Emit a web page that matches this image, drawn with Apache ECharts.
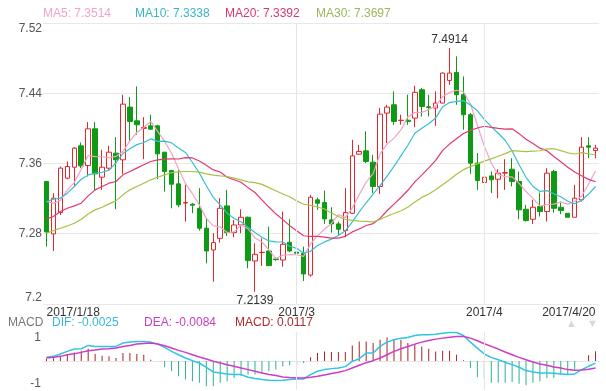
<!DOCTYPE html>
<html><head><meta charset="utf-8">
<script src="https://cdn.jsdelivr.net/npm/echarts@6/dist/echarts.min.js"></script>
<style>html,body{margin:0;padding:0;background:#fff}#c{width:606px;height:391px}</style>
</head><body><div id="c"></div>
<script>
const dates = ['2017/1/18','2017/1/19','2017/1/20','2017/1/21','2017/1/23','2017/1/24','2017/1/25','2017/1/26','2017/1/27','2017/1/28','2017/1/30','2017/1/31',
'2017/2/1','2017/2/2','2017/2/3','2017/2/4','2017/2/6','2017/2/7','2017/2/8','2017/2/9','2017/2/10','2017/2/11','2017/2/13','2017/2/14','2017/2/15','2017/2/16','2017/2/17','2017/2/18','2017/2/20','2017/2/21','2017/2/22','2017/2/23','2017/2/24','2017/2/25','2017/2/27','2017/2/28',
'2017/3/1','2017/3/2','2017/3/3','2017/3/4','2017/3/6','2017/3/7','2017/3/8','2017/3/9','2017/3/10','2017/3/11','2017/3/13','2017/3/14','2017/3/15','2017/3/16','2017/3/17','2017/3/18','2017/3/20','2017/3/21','2017/3/22','2017/3/23','2017/3/24','2017/3/25','2017/3/27','2017/3/28','2017/3/29','2017/3/30','2017/3/31',
'2017/4/1','2017/4/3','2017/4/4','2017/4/5','2017/4/6','2017/4/7','2017/4/8','2017/4/10','2017/4/11','2017/4/12','2017/4/13','2017/4/14','2017/4/15','2017/4/17','2017/4/18','2017/4/19','2017/4/20'];

const opens = [7.3395,7.2798,7.3041,7.3433,7.3558,7.3801,7.3577,7.3995,7.3444,7.3547,
7.3718,7.3642,7.4242,7.4086,7.4000,7.4029,7.4029,7.3729,7.3520,7.3368,
7.3150,7.3137,7.3090,7.2863,7.2615,7.2748,7.3117,7.2813,7.2900,7.2988,
7.2490,7.2585,7.2604,7.2513,7.2501,7.2703,7.2590,7.2578,7.2330,7.3186,
7.3155,7.2958,7.2912,7.2836,7.3033,7.3706,7.3744,7.3615,7.3338,7.4174,
7.4269,7.4090,7.4093,7.4117,7.4440,7.4246,7.4231,7.4288,7.4546,7.4637,
7.4383,7.4155,7.3604,7.3383,7.3459,7.3421,7.3490,7.3535,7.3395,7.3079,
7.2965,7.3110,7.3053,7.3509,7.3102,7.3033,7.2988,7.3186,7.3801,7.3748];
const closes = [7.2820,7.3205,7.3547,7.3566,7.3775,7.3573,7.3995,7.3482,7.3558,7.3729,
7.3642,7.4276,7.4079,7.4041,7.4010,7.3991,7.3710,7.3509,7.3364,7.3129,
7.3155,7.3125,7.2863,7.2604,7.2699,7.3090,7.2813,7.2900,7.2988,7.2494,
7.2566,7.2589,7.2437,7.2505,7.2680,7.2604,7.2578,7.2342,7.3216,7.3148,
7.2969,7.2912,7.2851,7.3041,7.3687,7.3737,7.3623,7.3338,7.4162,7.4242,
7.4079,7.4093,7.4080,7.4410,7.4250,7.4238,7.4288,7.4630,7.4630,7.4383,
7.4155,7.3604,7.3406,7.3444,7.3414,7.3490,7.3497,7.3395,7.3072,7.2950,
7.3102,7.3053,7.3490,7.3090,7.3064,7.2988,7.3205,7.3786,7.3786,7.3775];
const lows = [7.2653,7.2604,7.3014,7.3421,7.3338,7.3547,7.3452,7.3292,7.3300,7.3528,
7.3079,7.3482,7.3850,7.3927,7.3649,7.3984,7.3421,7.3280,7.3090,7.3102,
7.2939,7.3034,7.2836,7.2463,7.2254,7.2699,7.2775,7.2760,7.2806,7.2406,
7.2139,7.2433,7.2433,7.2494,7.2425,7.2589,7.2425,7.2262,7.2311,7.3072,
7.2912,7.2813,7.2786,7.2760,7.3026,7.3700,7.3604,7.3262,7.3254,7.3832,
7.4041,7.4041,7.4041,7.4014,7.4136,7.4136,7.4029,7.4285,7.4497,7.4269,
7.3984,7.3482,7.3300,7.3349,7.3262,7.3205,7.3300,7.3338,7.2965,7.2939,
7.2912,7.2996,7.2939,7.3041,7.3022,7.2988,7.2988,7.3167,7.3660,7.3660];
const highs = [7.3400,7.3262,7.3566,7.3623,7.3786,7.3839,7.4071,7.4071,7.3756,7.3801,
7.3900,7.4383,7.4356,7.4478,7.4128,7.4155,7.4040,7.3730,7.3528,7.3528,
7.3357,7.3150,7.3319,7.2977,7.2806,7.3205,7.3300,7.2958,7.3079,7.2996,
7.2691,7.2748,7.2881,7.2533,7.3053,7.2965,7.2767,7.2653,7.3243,7.3212,
7.3292,7.3102,7.2939,7.3319,7.3870,7.3813,7.3965,7.3699,7.4231,7.4269,
7.4421,7.4155,7.4383,7.4485,7.4459,7.4383,7.4421,7.4637,7.4914,7.4820,
7.4592,7.4174,7.3718,7.3452,7.3509,7.3535,7.3649,7.3660,7.3509,7.3129,
7.3186,7.3269,7.3547,7.3528,7.3167,7.3033,7.3357,7.3900,7.3900,7.3813];

const ma5 = [7.3167,7.3148,7.3180,7.3300,7.3383,7.3533,7.3691,7.3678,7.3677,7.3667,
7.3681,7.3737,7.3857,7.3953,7.4010,7.4079,7.3966,7.3852,7.3717,7.3541,
7.3373,7.3256,7.3127,7.2975,7.2889,7.2876,7.2814,7.2821,7.2898,7.2857,
7.2752,7.2707,7.2615,7.2518,7.2555,7.2563,7.2561,7.2542,7.2684,7.2778,
7.2851,7.2917,7.3019,7.2984,7.3092,7.3246,7.3388,7.3485,7.3709,7.3820,
7.3889,7.3983,7.4131,7.4181,7.4182,7.4214,7.4253,7.4363,7.4407,7.4434,
7.4417,7.4280,7.4036,7.3798,7.3605,7.3472,7.3450,7.3448,7.3374,7.3281,
7.3203,7.3114,7.3133,7.3137,7.3160,7.3137,7.3167,7.3227,7.3366,7.3514];
const ma10 = [7.3167,7.3193,7.3205,7.3262,7.3338,7.3421,7.3470,7.3490,7.3500,7.3525,
7.3607,7.3714,7.3768,7.3815,7.3839,7.3880,7.3852,7.3855,7.3835,7.3776,
7.3726,7.3611,7.3490,7.3346,7.3215,7.3125,7.3035,7.2974,7.2937,7.2873,
7.2814,7.2761,7.2718,7.2708,7.2706,7.2658,7.2634,7.2579,7.2601,7.2667,
7.2707,7.2739,7.2781,7.2834,7.2935,7.3049,7.3153,7.3252,7.3347,7.3456,
7.3568,7.3686,7.3808,7.3945,7.4001,7.4052,7.4118,7.4247,7.4294,7.4308,
7.4316,7.4267,7.4200,7.4103,7.4020,7.3945,7.3865,7.3742,7.3586,7.3443,
7.3338,7.3282,7.3291,7.3256,7.3221,7.3170,7.3141,7.3180,7.3252,7.3338];
const ma20 = [7.2969,7.2996,7.3053,7.3091,7.3117,7.3148,7.3231,7.3300,7.3338,7.3376,
7.3395,7.3471,7.3509,7.3547,7.3585,7.3623,7.3642,7.3649,7.3653,7.3651,
7.3667,7.3663,7.3629,7.3581,7.3527,7.3503,7.3444,7.3415,7.3386,7.3325,
7.3270,7.3186,7.3104,7.3027,7.2961,7.2892,7.2835,7.2777,7.2769,7.2770,
7.2761,7.2750,7.2750,7.2771,7.2821,7.2854,7.2894,7.2916,7.2974,7.3062,
7.3138,7.3213,7.3295,7.3390,7.3468,7.3551,7.3636,7.3750,7.3821,7.3882,
7.3942,7.3977,7.4004,7.4024,7.4011,7.3999,7.3992,7.3995,7.3940,7.3876,
7.3827,7.3775,7.3746,7.3680,7.3621,7.3558,7.3503,7.3461,7.3419,7.3392];
const ma30 = [7.2806,7.2836,7.2863,7.2889,7.2920,7.2965,7.3026,7.3072,7.3102,7.3140,
7.3174,7.3243,7.3300,7.3338,7.3376,7.3414,7.3444,7.3471,7.3497,7.3505,
7.3509,7.3509,7.3501,7.3482,7.3467,7.3459,7.3452,7.3433,7.3414,7.3391,
7.3382,7.3362,7.3325,7.3290,7.3253,7.3221,7.3174,7.3136,7.3124,7.3105,
7.3082,7.3037,7.2996,7.2963,7.2952,7.2944,7.2941,7.2935,7.2962,7.2999,
7.3030,7.3062,7.3102,7.3162,7.3214,7.3253,7.3302,7.3359,7.3414,7.3477,
7.3530,7.3564,7.3596,7.3627,7.3652,7.3682,7.3712,7.3747,7.3742,7.3736,
7.3741,7.3745,7.3766,7.3768,7.3747,7.3722,7.3708,7.3723,7.3711,7.3697];

const dif = [0.0044,0.0056,0.0084,0.0116,0.0144,0.0148,0.0188,0.0176,0.0176,0.0176,
0.0176,0.0216,0.0228,0.0236,0.0236,0.0228,0.0204,0.0164,0.0116,0.0076,
0.0036,0.0004,-0.0024,-0.0076,-0.0132,-0.0144,-0.0156,-0.0164,-0.0164,-0.0196,
-0.0212,-0.0224,-0.0232,-0.0236,-0.0232,-0.0224,-0.0216,-0.0216,-0.0164,-0.0124,
-0.0104,-0.0092,-0.0084,-0.0068,-0.0004,0.0028,0.0096,0.0096,0.0176,0.0228,
0.0256,0.0276,0.0284,0.0308,0.0316,0.0316,0.0324,0.0336,0.0344,0.0344,
0.0308,0.0228,0.0156,0.0084,0.0044,0.0016,-0.0016,-0.0044,-0.0076,-0.0116,
-0.0132,-0.0144,-0.0144,-0.0148,-0.0156,-0.0164,-0.0156,-0.0104,-0.0064,-0.0025];
const dea = [0.0036,0.0044,0.0056,0.0076,0.0088,0.0104,0.0124,0.0132,0.0144,0.0148,
0.0156,0.0176,0.0188,0.0204,0.0212,0.0216,0.0204,0.0184,0.0156,0.0128,
0.0104,0.0076,0.0048,0.0024,-0.0004,-0.0024,-0.0044,-0.0064,-0.0084,-0.0104,
-0.0124,-0.0144,-0.0164,-0.0176,-0.0192,-0.0200,-0.0204,-0.0204,-0.0196,-0.0184,
-0.0168,-0.0152,-0.0136,-0.0116,-0.0084,-0.0052,-0.0020,0.0004,0.0036,0.0076,
0.0116,0.0148,0.0176,0.0204,0.0228,0.0248,0.0264,0.0276,0.0288,0.0296,
0.0296,0.0276,0.0244,0.0208,0.0176,0.0144,0.0108,0.0076,0.0044,0.0016,
-0.0012,-0.0036,-0.0052,-0.0072,-0.0084,-0.0104,-0.0112,-0.0108,-0.0100,-0.0084];
const macd = [0.0028,0.0044,0.0056,0.0084,0.0104,0.0124,0.0148,0.0084,0.0064,0.0056,
0.0036,0.0096,0.0096,0.0084,0.0076,0.0016,-0.0004,-0.0076,-0.0124,-0.0184,
-0.0224,-0.0244,-0.0264,-0.0304,-0.0304,-0.0264,-0.0244,-0.0204,-0.0184,-0.0164,
-0.0164,-0.0144,-0.0124,-0.0104,-0.0064,-0.0052,-0.0044,-0.0024,0.0044,0.0096,
0.0116,0.0108,0.0108,0.0108,0.0188,0.0236,0.0236,0.0216,0.0256,0.0284,
0.0256,0.0256,0.0216,0.0204,0.0176,0.0148,0.0116,0.0124,0.0124,0.0076,
0.0008,-0.0084,-0.0196,-0.0204,-0.0264,-0.0264,-0.0264,-0.0252,-0.0276,-0.0292,
-0.0264,-0.0244,-0.0204,-0.0204,-0.0164,-0.0164,-0.0104,-0.0004,0.0068,0.0117];

const xLabelIdx = [0, 36, 63, 79];
const xLabelText = ['2017/1/18', '2017/3', '2017/4', '2017/4/20'];
const monthLineIdx = [36, 63];
const macdTickText = ['1', '-1'];

const FONT = 'Arial, "Liberation Sans", sans-serif';
const C = {
  up: '#e3262b', down: '#0e9a14',
  ma5: '#f2a3c7', ma10: '#37bfd0', ma20: '#e2386f', ma30: '#a5c24a',
  dif: '#2fc5e3', dea: '#d13ac6', macdUp: '#a82424', macdDown: '#2fb08f',
  grid: '#e8e8e8'
};

const candle = dates.map((d, i) => [opens[i], closes[i], lows[i], highs[i]]);
const maxH = Math.max(...highs), maxI = highs.indexOf(maxH);
const minL = Math.min(...lows), minI = lows.indexOf(minL);
const last = dates.length - 1;
const vLines = {
  silent: true, symbol: ['none', 'none'], label: { show: false },
  lineStyle: { color: '#e6e6e6', type: 'solid', width: 1 },
  data: monthLineIdx.map(i => ({ xAxis: dates[i] }))
};

const txt = (x, y, text, fill, size) => ({
  type: 'text', x: x, y: y, silent: true,
  style: { text: text, fill: fill, font: (size || 12) + 'px ' + FONT, verticalAlign: 'middle' }
});

const chart = echarts.init(document.getElementById('c'));
chart.setOption({
  animation: false,
  backgroundColor: '#fff',
  textStyle: { fontFamily: FONT },
  grid: [
    { left: 43, right: 7, top: 23, height: 281 },
    { left: 43, right: 7, top: 332, height: 58 }
  ],
  xAxis: [
    { type: 'category', gridIndex: 0, data: dates, boundaryGap: true,
      axisLine: { show: false }, axisTick: { show: false }, splitLine: { show: false },
      axisLabel: { interval: (i) => xLabelIdx.indexOf(i) >= 0,
        formatter: (v, i) => { const k = xLabelIdx.indexOf(i); return k >= 0 ? xLabelText[k] : ''; },
        color: '#333', fontSize: 12, margin: 3, alignMinLabel: 'left', alignMaxLabel: 'right' } },
    { type: 'category', gridIndex: 1, data: dates, boundaryGap: true, position: 'top',
      axisLine: { show: true, lineStyle: { color: '#e6e6e6' } }, axisTick: { show: false },
      axisLabel: { show: false }, splitLine: { show: false } }
  ],
  yAxis: [
    { type: 'value', gridIndex: 0, min: 7.2, max: 7.52, interval: 0.08, scale: true,
      axisLine: { show: false }, axisTick: { show: false },
      splitLine: { lineStyle: { color: C.grid } },
      axisLabel: { color: '#555', fontSize: 12, margin: 1,
        verticalAlignMinLabel: 'bottom', verticalAlignMaxLabel: 'top' } },
    { type: 'value', gridIndex: 1, min: -0.035, max: 0.035, interval: 0.035,
      axisLine: { show: false }, axisTick: { show: false }, splitLine: { show: false },
      axisLabel: { color: '#555', fontSize: 12, margin: 2,
        formatter: (v) => v > 0 ? macdTickText[0] : (v < 0 ? macdTickText[1] : ''),
        verticalAlignMinLabel: 'bottom', verticalAlignMaxLabel: 'top' } }
  ],
  graphic: [
    txt(43, 14, 'MA5: ' + ma5[last].toFixed(4), C.ma5),
    txt(135, 14, 'MA10: ' + ma10[last].toFixed(4), '#39b5c6'),
    txt(225, 14, 'MA20: ' + ma20[last].toFixed(4), '#d6376c'),
    txt(316, 14, 'MA30: ' + ma30[last].toFixed(4), '#98b85a'),
    txt(8, 323, 'MACD', '#777'),
    txt(52, 323, 'DIF: ' + dif[last].toFixed(4), '#39b7dc'),
    txt(144, 323, 'DEA: ' + dea[last].toFixed(4), '#c93cc4'),
    txt(235, 323, 'MACD: ' + macd[last].toFixed(4), '#b0292b'),
    txt(566, 324, '\u25B2', '#d8d8d8', 11),
    txt(587, 324, '\u25BC', '#d8d8d8', 11)
  ],
  series: [
    { type: 'candlestick', xAxisIndex: 0, yAxisIndex: 0, data: candle, barWidth: 5,
      itemStyle: { color: '#fff', color0: C.down, borderColor: C.up, borderColor0: C.down, borderWidth: 1 },
      markLine: vLines,
      markPoint: {
        symbol: 'circle', symbolSize: 1, itemStyle: { color: 'rgba(0,0,0,0)' },
        label: { show: true, color: '#333', fontSize: 12, distance: 2,
          formatter: (p) => Number(p.value).toFixed(4) },
        data: [
          { coord: [dates[maxI], maxH], value: maxH, label: { position: 'top' } },
          { coord: [dates[minI], minL], value: minL, label: { position: 'bottom' } }
        ]
      } },
    { type: 'line', xAxisIndex: 0, yAxisIndex: 0, data: ma5, showSymbol: false, lineStyle: { color: C.ma5, width: 1.2 }, itemStyle: { color: C.ma5 } },
    { type: 'line', xAxisIndex: 0, yAxisIndex: 0, data: ma10, showSymbol: false, lineStyle: { color: C.ma10, width: 1.2 }, itemStyle: { color: C.ma10 } },
    { type: 'line', xAxisIndex: 0, yAxisIndex: 0, data: ma20, showSymbol: false, lineStyle: { color: C.ma20, width: 1.2 }, itemStyle: { color: C.ma20 } },
    { type: 'line', xAxisIndex: 0, yAxisIndex: 0, data: ma30, showSymbol: false, lineStyle: { color: C.ma30, width: 1.2 }, itemStyle: { color: C.ma30 } },
    { type: 'bar', xAxisIndex: 1, yAxisIndex: 1, data: macd, barWidth: 1,
      itemStyle: { color: (p) => p.value >= 0 ? C.macdUp : C.macdDown },
      markLine: vLines },
    { type: 'line', xAxisIndex: 1, yAxisIndex: 1, data: dif, showSymbol: false, lineStyle: { color: C.dif, width: 1.5 }, itemStyle: { color: C.dif } },
    { type: 'line', xAxisIndex: 1, yAxisIndex: 1, data: dea, showSymbol: false, lineStyle: { color: C.dea, width: 1.5 }, itemStyle: { color: C.dea } }
  ]
});
</script>
</body></html>
